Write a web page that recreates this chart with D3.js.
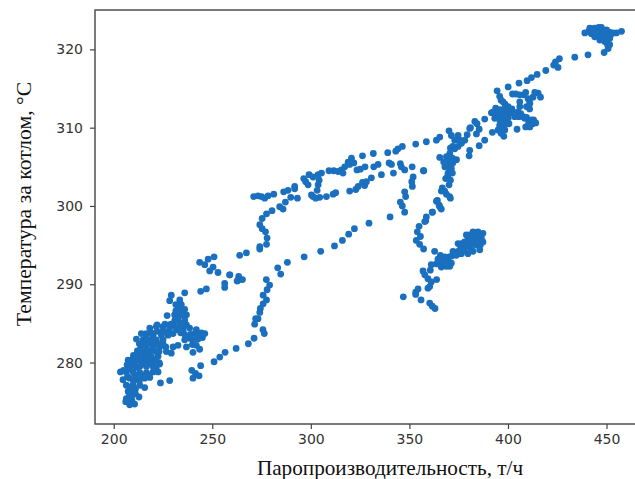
<!DOCTYPE html>
<html>
<head>
<meta charset="utf-8">
<script src="https://cdn.jsdelivr.net/npm/d3@7/dist/d3.min.js"></script>
<style>
  html, body { margin: 0; padding: 0; background: #fff; overflow: hidden; }
  svg { display: block; }
</style>
</head>
<body>
<div id="chart"></div>
<script>
const xTicks = [200, 250, 300, 350, 400, 450];
const yTicks = [280, 290, 300, 310, 320];
const xLabel = 'Паропроизводительность, т/ч';
const yLabel = 'Температура за котлом, °C';

// [steam output, temperature], one list per part of the cloud
const lowStem = [[233.5,288],[231.5,287.4],[234.3,287.4],[232.6,286.7],[236,286.8],[230.9,286.1],[234.3,286.1],[236.9,286.1],[232.6,285.4],[236,285.4],[227.1,286],[230.1,284.8],[234.3,284.8],[236.9,284.8],[236,288.9],[229.2,288.6],[228.4,287.9],[233,287],[235,286.4],[231,285.4],[233,285.9],[235,285],[231.5,286.6],[233.5,284.9]];
const lowBand = [[218.3,284.4],[221.6,284.6],[225,284.6],[228.4,284.4],[231.8,284.2],[235.2,284.2],[238.5,284.4],[241.9,284.2],[244.5,283.8],[246.2,283.7],[245,283.2],[242.8,283],[240.2,282.9],[238.5,283.1],[239.9,282.3],[241.9,282.2],[243.6,281.7],[240.2,281.3],[236,282.9],[236.9,282],[232.6,282.2],[230.1,282],[226.4,282],[226.7,281.4],[229.2,281.2],[220,283.5],[224.2,283.5],[227.6,283.5],[230.1,283.7],[216.6,283.7],[214,283.7],[211.5,283],[214.9,282.9],[218.3,282.9],[221.6,282.9],[225,282.9],[216.5,283.2],[219,283.8],[222,284],[225,284],[228,284],[232,284.5],[234,283.8],[236,283.6],[239,283.6],[241,283.7],[243,283.5],[222,284.8],[226,284.9],[229,284.9]];
const lowCore = [[216.6,282],[220,282],[223.3,282],[214.9,281.4],[218.3,281.4],[221.6,281.4],[212.3,281],[215.7,280.8],[219.1,280.8],[222.5,280.8],[207.3,280.3],[209.8,280.5],[213.2,280.3],[216.6,280.1],[219.9,280.1],[223,280],[206.8,279.7],[209.8,279.7],[213.2,279.5],[216.6,279.5],[220,279.5],[223.3,279.8],[203.4,278.8],[206.4,278.8],[209.8,278.8],[213.2,278.7],[216.6,278.7],[220,278.8],[222.5,278.8],[213,282.4],[215,282.3],[217.5,282.5],[220,282.6],[222.5,282.4],[225,282.4],[212,281.5],[213.5,281.7],[217,281.2],[219.5,281.6],[223,281.4],[210,280.9],[211,280.2],[214.5,280.6],[218,280.5],[221,280.3],[208,279.9],[211.5,279.4],[215,279.9],[218,279.9],[221.5,279.3],[205,279],[208,279.2],[211,278.4],[214.5,278.3],[218,278.4]];
const lowTail = [[204.7,277.8],[208.1,278],[211.5,277.9],[215.7,278],[218.3,278.1],[206.4,277.1],[209.8,277.1],[213.2,277.1],[215.7,276.8],[223.7,277.4],[228.4,277.7],[207.3,276.3],[209.8,276.3],[212.8,275.6],[206.4,275.4],[209,275.6],[206.1,275],[208.1,274.6],[210.6,274.7],[209.3,275.1],[207,278.2],[210,277.6],[213,277.7],[208,276.9],[211,276.6],[208,275.8],[207.5,275],[211,276]];
const lowerPath = [[277.4,290.6],[279.1,289.9],[277.8,289.3],[275.8,288.6],[277.5,288],[275.8,287.5],[274.4,286.9],[274.1,286.4],[272,285.6],[273.2,285.6],[271.5,284.9],[275.7,284.2],[276.4,283.7],[271.2,283.1],[268.3,282.4],[262.1,281.8],[256.5,281.3],[253.8,280.7],[250.9,280.1],[244.1,279.6],[239.6,279],[243.3,278.3],[241.5,278.6],[240.2,278]];
const midLeft = [[243.6,292.8],[246.2,292.5],[247.9,293.2],[250.9,293.5],[248.7,291.7],[250.4,292.2],[252.9,291.5],[258.8,291.2],[256.3,290.1],[256.3,289.6],[263.4,291],[263.1,290.5],[265.3,290.6],[262.6,290.4],[244.1,289.1],[247,289.4]];
const upperBand = [[271,301.2],[273.2,301.3],[274.9,301.2],[276.6,301],[278.3,301.3],[281.2,301.5],[286.2,301.8],[288.4,302],[291.8,302.5],[291.8,302.2],[296.4,303.5],[297.4,303.1],[298.6,302.7],[299.1,304],[301.1,303.7],[303.7,304],[305.4,304.2],[304.2,303.3],[303.7,302.7],[303.2,302],[301.1,301.2],[300.3,301.4],[302.5,301],[304.5,301.1],[307.9,301.2],[311.3,301.5],[312.6,301.7],[309.2,304.5],[311.6,304.5],[313.8,304.4],[315.5,304.6],[317.2,305],[316.3,304.2],[318.9,305.6],[320.6,306.1],[321.8,305.5],[319.7,305.3],[326.2,306.4],[331.7,306.7],[339,306.8],[343.1,307],[344.2,307.3],[346.4,307.6],[353.2,307.9],[358.6,308.2]];
const middleBand = [[323.4,304.6],[325.1,304.7],[327.5,305],[331.9,305],[334.1,305.3],[339.7,305.5],[340.9,305.3],[345.4,305.4],[345.9,305],[347.6,304.6],[351.4,305],[357.3,304.5],[319.7,301.9],[322.8,302.1],[324,302.5],[326.2,303],[328.2,303.1],[327.3,302.6],[330.7,303.6],[335.8,304],[341.9,304.2]];
const returnPath = [[351.9,303.7],[351.2,303.1],[351.5,302.5],[347.6,301.8],[348.1,301.2],[345.4,300.5],[346.4,300],[347.6,299.2],[340.2,298.6],[329.5,297.8],[322.1,297.1],[319.2,296.4],[316,295.6],[312,294.9],[305,294.2],[296.6,293.5],[288.1,292.8],[283.2,292.1],[284.7,291.3]];
const leftRise = [[280.3,299.4],[284.2,299.9],[285.9,299.6],[287.1,300.5],[289.8,301.1],[293.2,301],[277.5,299],[275.3,298.4],[274.1,297.6],[275.3,297.1],[277,296.7],[277.8,295.9],[277.5,295.1],[274.1,294.8],[274.1,294.5],[267.3,294],[263.9,293.7],[258.9,291.2]];
const lobeRight = [[367.9,301.9],[370.4,301.2],[364.2,300.7],[365.4,299.9],[361.6,299.2],[358.6,298.6],[358.3,298.1],[354.9,297.4],[354,296.7],[355.6,296.1],[353.5,295.6],[355.2,295.1],[357.2,294.5],[362.8,294.2],[365.7,293.7],[367.9,293.5],[361.1,292.5],[363.7,292.6],[367.1,292.9],[369.6,293.1],[366.2,292.2],[368.7,292.3],[371.3,292.7],[372.1,294.2],[374.7,294.2],[374.7,295.2],[373.8,293.7],[377.2,294.6],[378,295.4],[379.7,293.9],[380.6,294.8],[381.4,295.9],[378.9,296.3],[382.3,296.7],[384.8,296.7],[384,295.9],[384,295],[386.5,295.9],[387.3,296.5],[387.3,295.4],[385.7,294.4],[382.3,294.2],[376.4,293.9],[382.3,295.2],[379.7,295.6],[370,293.5],[371.5,293.6],[373,294],[375,293.9],[376,294.6],[378,294.3],[379,294.9],[380,295.3],[381.5,294.4],[383,295.6],[385,295.5],[386,295],[383,296.4],[380.5,296.3],[385.5,296.3],[376.5,295.2],[365,292.8],[364.5,293.2],[366,293],[368.5,293],[367,292.5],[370.5,292.3]];
const lobeTail = [[360.6,291.8],[356.9,291.7],[357.8,291.2],[359.4,290.7],[363.8,290.6],[361.1,290.3],[360.3,289.7],[359.4,289.5],[354.4,289.4],[353.2,289],[353.2,288.7],[346.9,288.4],[355.9,288],[360.3,287.6],[361.6,287.2],[363,286.9]];
const riserStem = [[363.7,308.4],[365.4,308.8],[370.1,309.6],[371.3,309],[374.7,309],[373,308.4],[378.1,308.4],[379.3,309.1],[381,310],[385.4,309.8],[385.4,307.7],[380.6,307.1],[380.3,306.4],[376.4,308],[374.7,307.6],[373,307.3],[370.8,307.4],[370.5,306.7],[365.4,306.2],[368.8,306.3],[371.8,306.1],[373.9,305.9],[367.4,305.6],[369.6,305.4],[368,305],[371.3,304.8],[369.6,304.2],[371.8,304.2],[368.4,303.5],[370.8,303.3],[370.1,302.7],[366.7,302.3],[366.2,301.9],[368.8,301.5],[370.8,301],[363.7,300.6],[365.1,300.1],[366.2,299.6],[361.7,299.2],[357.8,298],[357.1,304.5],[369.5,303.9],[370.5,304.8],[369,305.8],[372,305.5],[375.5,308.4],[372,307.6]];
const highCluster = [[380.6,309.9],[384.3,310.5],[383.2,310.8],[388.2,311.1],[392.1,309.4],[388.2,308.4],[384,309.2],[394.5,314.7],[395.8,314],[397.5,313.3],[400.1,312.7],[393.8,312.5],[391.6,311.9],[395,311.8],[398.4,311.8],[401.8,311.9],[405.1,312],[393.3,311.2],[396.7,311.2],[400.1,311.2],[403.4,311.4],[407.7,311.4],[395.8,310.3],[399.2,310.5],[395,309.7],[398.4,309.7],[397.9,308.9],[404.6,309.8],[409.4,311.3],[411.9,311],[414.1,310.6],[411.1,310.1],[409,310.1],[406,312.7],[409.4,312.7],[411.1,313.1],[412.7,313.9],[415.3,314.4],[416.5,313.9],[413.6,314.5],[409,314.5],[406,314.2],[402.3,314.3],[410.2,313.7],[406,313.3],[392.5,312],[394,311.5],[396,312.3],[397,311.5],[398.5,312.5],[400,311.7],[402,312.4],[403.5,311.8],[396,310.8],[398,310.8],[400.5,310.5],[397,310],[396.5,309.3],[405.5,311.4],[406.5,311.8],[408.5,311.2],[410.5,310.6],[412.5,310.5],[413,311],[396.5,313.5],[398.5,313],[399,312.1],[410.8,313.5],[408,314.2],[404,314.3],[411,312.4]];
const topRun = [[400.1,315.2],[405.6,315.7],[409.7,316],[411.9,316.4],[414.8,316.8],[419.2,317.3],[423.2,318],[424.1,318.4],[426.1,318.8],[425.4,317.7],[433.9,319],[440.6,319.3],[448.8,319.6],[450.8,320.1],[451.6,320.6],[449.1,321],[446.6,321.2],[444,321.6]];
const topBlob = [[439,322.1],[441.5,322.7],[444,322.7],[447.4,322.8],[450,322.5],[453.3,322.1],[457.6,322.3],[455,322.1],[442.3,322],[445.7,322],[449.1,321.8],[451.6,321.4],[446.6,321.6],[450,321],[443,322.4],[445.5,322.4],[448,322.3],[446,322.8],[441,322.3],[449.5,321.4],[448,321.7],[444.5,321.9],[451.5,322.2],[452,321.8],[450.5,320.6]];

const points = [].concat(lowStem, lowBand, lowCore, lowTail, lowerPath, midLeft, upperBand, middleBand,
  returnPath, leftRise, lobeRight, lobeTail, riserStem, highCluster, topRun, topBlob);

const width = 635, height = 479;
const plotLeft = 95, plotRight = 642, plotTop = 10, plotBottom = 424;

const x = d3.scaleLinear().domain([190.5, 468]).range([plotLeft, plotRight]);
const y = d3.scaleLinear().domain([272.15, 325.03]).range([plotBottom, plotTop]);

const svg = d3.select('#chart').append('svg').attr('width', width).attr('height', height);

svg.append('g').selectAll('circle').data(points).join('circle')
  .attr('cx', d => x(d[0]))
  .attr('cy', d => y(d[1]))
  .attr('r', 3.4)
  .attr('fill', '#1a70bf');

const styleAxis = g => {
  g.selectAll('text').attr('font-family', '"DejaVu Sans"').attr('font-size', 14).attr('fill', '#333');
  g.selectAll('line').attr('stroke', '#444').attr('stroke-width', 1.2);
  g.select('.domain').remove();
};

svg.append('g').attr('transform', `translate(0,${plotBottom})`)
  .call(d3.axisBottom(x).tickValues(xTicks).tickSize(5).tickPadding(5))
  .call(styleAxis);
svg.append('g').attr('transform', `translate(${plotLeft},0)`)
  .call(d3.axisLeft(y).tickValues(yTicks).tickSize(5).tickPadding(7))
  .call(styleAxis);

svg.append('rect')
  .attr('x', plotLeft).attr('y', plotTop)
  .attr('width', plotRight - plotLeft).attr('height', plotBottom - plotTop)
  .attr('fill', 'none').attr('stroke', '#444').attr('stroke-width', 1.4);

svg.append('text')
  .attr('x', 390).attr('y', 475)
  .attr('text-anchor', 'middle')
  .attr('font-family', '"Liberation Serif"').attr('font-size', 21.2).attr('fill', '#111')
  .text(xLabel);
svg.append('text')
  .attr('transform', 'translate(31,204) rotate(-90)')
  .attr('text-anchor', 'middle')
  .attr('font-family', '"Liberation Serif"').attr('font-size', 21.7).attr('fill', '#111')
  .text(yLabel);
</script>
</body>
</html>
